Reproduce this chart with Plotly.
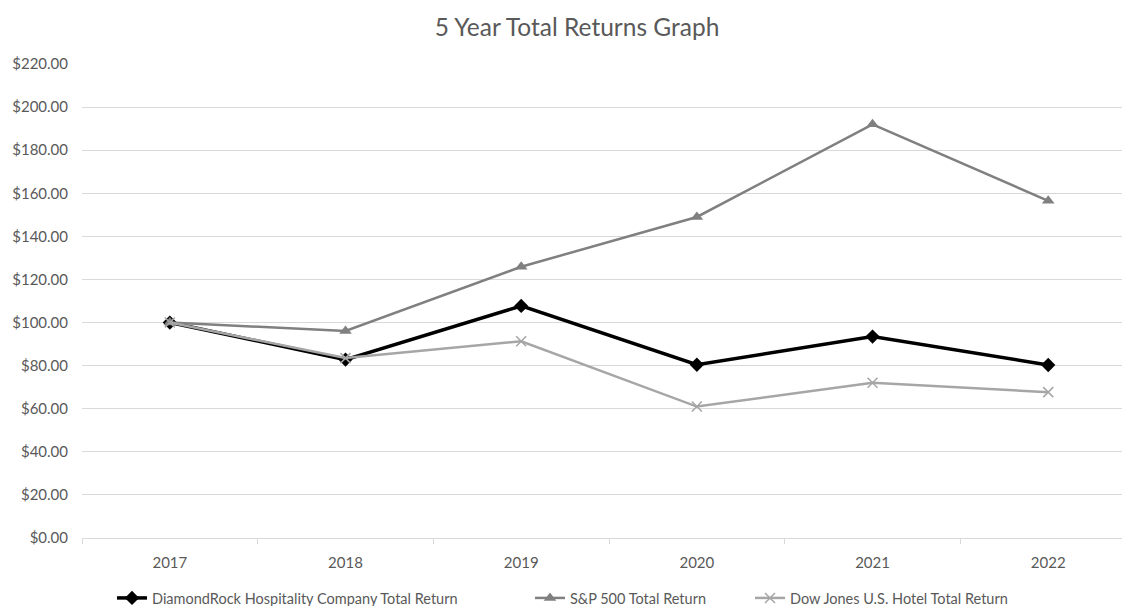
import plotly.graph_objects as go

years = ["2017", "2018", "2019", "2020", "2021", "2022"]
drh = [100.0, 82.8, 107.7, 80.4, 93.5, 80.3]
sp500 = [100.0, 96.1, 125.9, 149.0, 192.0, 156.5]
djhotel = [100.0, 83.5, 91.3, 61.0, 72.1, 67.7]
names = ["DiamondRock Hospitality Company Total Return",
         "S&P 500 Total Return",
         "Dow Jones U.S. Hotel Total Return"]
y_ticks = [0, 20, 40, 60, 80, 100, 120, 140, 160, 180, 200, 220]

FONT = "Lato, 'Open Sans', sans-serif"
GREY = "#595959"

W, H = 1122, 606
PL, PR = 82, 1122      # plot area left/right on screen
PT, PB = 64, 538       # plot area top/bottom on screen


def px_x(sx):
    return (sx - PL) / (PR - PL)


def px_y(sy):
    return (PB - sy) / (PB - PT)


fig = go.Figure()
fig.add_trace(go.Scatter(x=years, y=drh, name=names[0], mode="lines+markers",
                         line=dict(color="#000000", width=3.5),
                         marker=dict(symbol="diamond", size=11, color="#000000"),
                         legend="legend"))
fig.add_trace(go.Scatter(x=years, y=sp500, name=names[1], mode="lines+markers",
                         line=dict(color="#808080", width=2.5),
                         marker=dict(symbol="triangle-up", size=11, color="#808080"),
                         legend="legend2"))
fig.add_trace(go.Scatter(x=years, y=djhotel, name=names[2], mode="lines+markers",
                         line=dict(color="#A6A6A6", width=2.5),
                         marker=dict(symbol="x-thin-open", size=10,
                                     line=dict(color="#A6A6A6", width=1.5)),
                         legend="legend3"))

leg_common = dict(orientation="h", yanchor="middle", xanchor="left",
                  font=dict(family=FONT, size=14.5, color=GREY),
                  bgcolor="rgba(0,0,0,0)", borderwidth=0, itemwidth=30)

fig.update_layout(
    width=W, height=H,
    margin=dict(l=PL, r=W - PR, t=PT, b=H - PB, autoexpand=False),
    paper_bgcolor="white", plot_bgcolor="white",
    font=dict(family=FONT, size=15, color=GREY),
    title=dict(text="5 Year Total Returns Graph", x=px_x(577), xanchor="center",
               xref="paper", yref="container", y=1 - 27 / H,
               yanchor="middle",
               font=dict(family=FONT, size=24.5, color=GREY)),
    xaxis=dict(type="category", range=[-0.5, 5.42], showgrid=False,
               showline=True, linecolor="#D9D9D9", linewidth=1,
               ticks="outside", tickcolor="#D9D9D9", ticklen=5,
               tickson="boundaries", tickfont=dict(size=15, color=GREY),
               ticklabelstandoff=11, zeroline=False),
    yaxis=dict(range=[0, 220], tickvals=y_ticks,
               ticktext=[f"${v:.2f}" for v in y_ticks],
               showgrid=True, gridcolor="#D9D9D9", gridwidth=1,
               zeroline=False, showline=False, ticks="",
               ticklabelstandoff=13,
               tickfont=dict(size=15, color=GREY)),
    legend=dict(x=px_x(112), y=px_y(598), **leg_common),
    legend2=dict(x=px_x(530), y=px_y(598), **leg_common),
    legend3=dict(x=px_x(750), y=px_y(598), **leg_common),
    showlegend=True,
)

fig.write_html("out.html",
               config={"displayModeBar": False},
               post_script="document.body.style.margin='0';"
                           "document.body.style.overflow='hidden';")
